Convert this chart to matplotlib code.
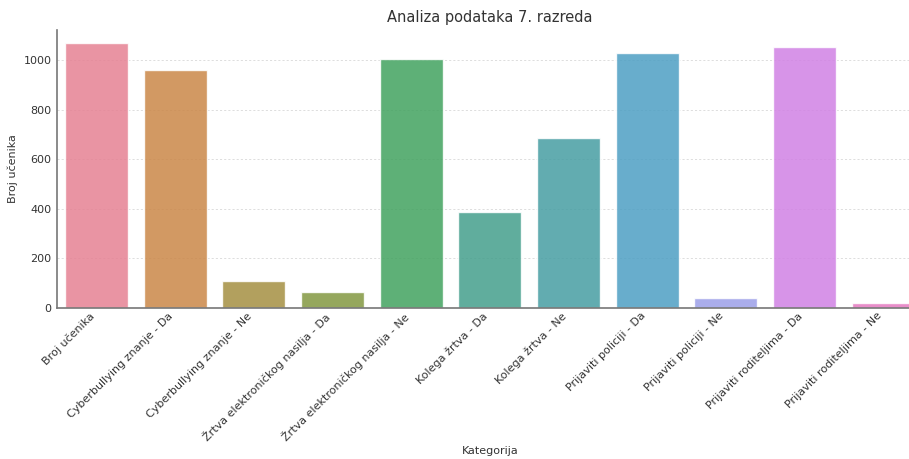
import matplotlib
matplotlib.use("Agg")
import matplotlib.pyplot as plt
import seaborn as sns

categories = [
    "Broj učenika",
    "Cyberbullying znanje - Da",
    "Cyberbullying znanje - Ne",
    "Žrtva elektroničkog nasilja - Da",
    "Žrtva elektroničkog nasilja - Ne",
    "Kolega žrtva - Da",
    "Kolega žrtva - Ne",
    "Prijaviti policiji - Da",
    "Prijaviti policiji - Ne",
    "Prijaviti roditeljima - Da",
    "Prijaviti roditeljima - Ne",
]
counts = [1070, 962, 110, 65, 1004, 386, 685, 1030, 41, 1054, 19]

sns.set_style("white")
fig = plt.figure(figsize=(9.09, 4.59), dpi=100)
ax = fig.add_axes([0.063, 0.329, 0.952, 0.606])

sns.barplot(x=categories, y=counts, hue=categories, palette="husl", legend=False,
            saturation=0.75, alpha=0.85, ax=ax)

ax.set_title("Analiza podataka 7. razreda", fontsize=10.5, color="#333333")
ax.set_xlabel("Kategorija", fontsize=8, color="#333333", labelpad=2)
ax.set_ylabel("Broj učenika", fontsize=8, color="#333333")
ax.set_yticks([0, 200, 400, 600, 800, 1000])
ax.tick_params(axis="both", labelsize=8, labelcolor="#333333", length=3, color="#333333")
ax.tick_params(axis="x", direction="in", pad=2)
ax.tick_params(axis="y", pad=1)
plt.setp(ax.get_xticklabels(), rotation=45, ha="right")
ax.yaxis.grid(True, linestyle=(0, (3, 3)), linewidth=0.5, color="#d0d0d0")
ax.set_axisbelow(True)
for side in ("top", "right"):
    ax.spines[side].set_visible(False)
for side in ("left", "bottom"):
    ax.spines[side].set_color("#777777")
    ax.spines[side].set_linewidth(1.2)

fig.savefig("out.png", dpi=100)
